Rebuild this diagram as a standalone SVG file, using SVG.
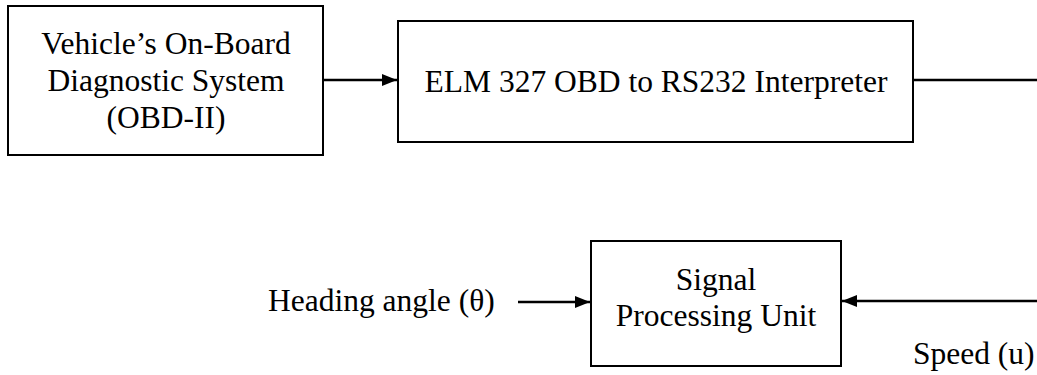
<svg xmlns="http://www.w3.org/2000/svg" width="1037" height="375" viewBox="0 0 1037 375">
  <style>
    .box { fill: #ffffff; stroke: #000000; stroke-width: 2; }
    .t { font-family: "Liberation Serif", "Times New Roman", serif; font-size: 31.5px; fill: #000000; }
    .c { text-anchor: middle; }
    .wire { stroke: #000000; stroke-width: 2.4; fill: none; }
  </style>
  <defs>
    <marker id="arr" viewBox="0 0 15 12" refX="15" refY="6" markerWidth="15" markerHeight="12" markerUnits="userSpaceOnUse" orient="auto">
      <path d="M0,0 L15,6 L0,12 Z" fill="#000000"/>
    </marker>
  </defs>
  <rect width="1037" height="375" fill="#ffffff"/>

  <g id="node-obd">
    <rect class="box" x="8" y="6" width="315" height="149"/>
    <text class="t c" x="166" y="54">Vehicle’s On-Board</text>
    <text class="t c" x="166" y="91">Diagnostic System</text>
    <text class="t c" x="166" y="128">(OBD-II)</text>
  </g>

  <g id="node-elm">
    <rect class="box" x="398" y="21" width="515" height="121"/>
    <text class="t c" x="656" y="92">ELM 327 OBD to RS232 Interpreter</text>
  </g>

  <g id="node-spu">
    <rect class="box" x="591" y="241" width="250" height="125"/>
    <text class="t c" x="716" y="290">Signal</text>
    <text class="t c" x="716" y="326">Processing Unit</text>
  </g>

  <g id="labels">
    <text class="t" x="268" y="311">Heading angle (θ)</text>
    <text class="t" x="913" y="364">Speed (u)</text>
  </g>

  <g id="connectors">
    <line class="wire" x1="323" y1="80" x2="397" y2="80" marker-end="url(#arr)"/>
    <line class="wire" x1="913" y1="80" x2="1037" y2="80"/>
    <line class="wire" x1="518" y1="302" x2="590" y2="302" marker-end="url(#arr)"/>
    <line class="wire" x1="1037" y1="301" x2="842" y2="301" marker-end="url(#arr)"/>
  </g>
</svg>
